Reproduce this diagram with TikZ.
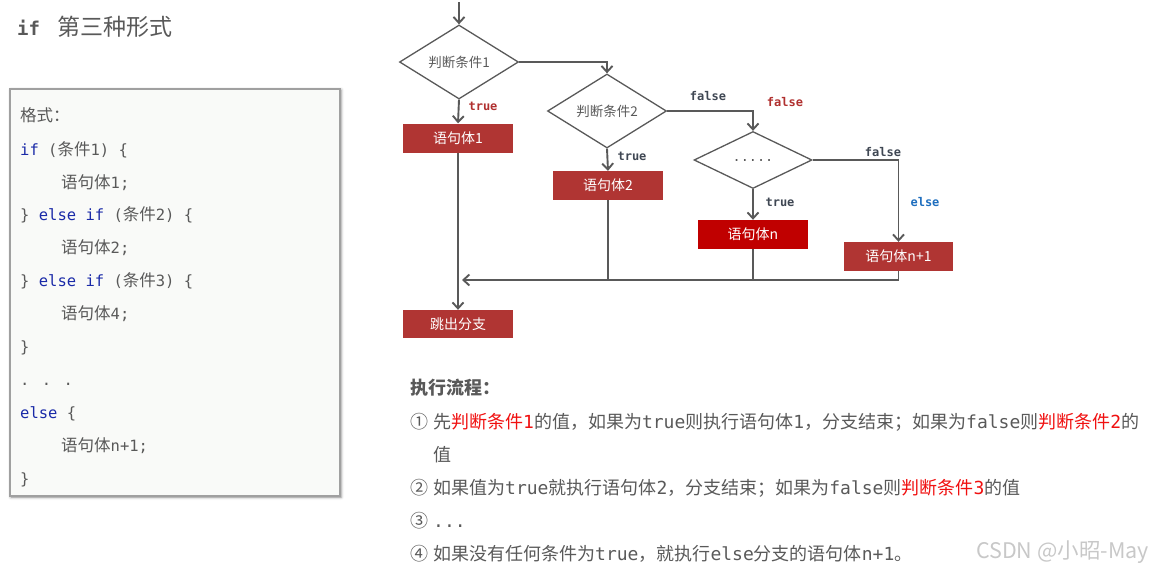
\documentclass[tikz,border=0pt]{standalone}
\usepackage{fontspec}
\setmainfont{Noto Sans CJK SC}
\newfontfamily\mono{DejaVu Sans Mono}
\usetikzlibrary{arrows.meta,shapes.geometric,shadows.blur}
\definecolor{lc}{HTML}{595959}
\definecolor{boxred}{HTML}{B03533}
\definecolor{boxdark}{HTML}{C00000}
\definecolor{labred}{HTML}{B0302F}
\definecolor{labdark}{HTML}{3F4753}
\definecolor{elseblue}{HTML}{1E6EBE}
\definecolor{kw}{HTML}{1A2AA8}
\definecolor{cg}{HTML}{595959}
\definecolor{tr}{HTML}{F01010}
\definecolor{codebg}{HTML}{F9FAF8}
\definecolor{codeborder}{HTML}{A0A0A0}
\definecolor{wm}{HTML}{C8C8C8}
\newcommand\fs[1]{\fontsize{#1}{#1}\selectfont}
\newcommand\cj[1]{{\normalfont\fs{16.5}#1}}
\newcommand\m[1]{{\mono #1}}
\tikzset{
  ln/.style={draw=lc, line width=1.9pt},
  arr/.style={-{Straight Barb[length=6pt,width=11pt]}},
  dia/.style={diamond, draw=lc, line width=1.3pt, inner sep=0pt,
    minimum width=119pt, minimum height=57pt, text=lc, font=\fs{13.5}},
  stmt/.style={rectangle, inner sep=0pt, minimum width=110pt, minimum height=29pt,
    text=white, font=\fs{14}},
  lab/.style={inner sep=0pt, font=\mono\bfseries\fs{12}},
  codeline/.style={anchor=base west, inner sep=0pt, text=cg, font=\mono\fs{15.5}},
  ftext/.style={anchor=base west, inner sep=0pt, text=cg, font=\fs{18}},
}
\begin{document}
\begin{tikzpicture}[x=1pt,y=-1pt]
\useasboundingbox (0,0) rectangle (1156,570);

% title
\node[anchor=base west, inner sep=0pt, text=cg, font=\mono\bfseries\fs{19}] (tif) at (17,35) {if};
\node[anchor=base west, inner sep=0pt, text=cg, font=\fs{23}] (ttitle) at (57,35) {第三种形式};

% code box
\node[draw=codeborder, line width=1.2pt, fill=codebg, minimum width=330pt, minimum height=407pt,
  blur shadow={shadow xshift=1pt, shadow yshift=-1pt, shadow blur radius=3pt, shadow opacity=45}]
  (codebox) at (175,292.5) {};
\node[codeline] (c1) at (20,121) {\cj{格式：}};
\node[codeline] (c2) at (20,155) {{\color{kw}if} (\cj{条件}1) \{};
\node[codeline] (c3) at (61,188) {\cj{语句体}1;};
\node[codeline] (c4) at (20,220) {\} {\color{kw}else if} (\cj{条件}2) \{};
\node[codeline] (c5) at (61,253) {\cj{语句体}2;};
\node[codeline] (c6) at (20,286) {\} {\color{kw}else if} (\cj{条件}3) \{};
\node[codeline] (c7) at (61,319) {\cj{语句体}4;};
\node[codeline] (c8) at (20,352) {\}};
\node[codeline] (c9) at (20,385) {. . .};
\node[codeline] (c10) at (20,418) {{\color{kw}else} \{};
\node[codeline] (c11) at (61,451) {\cj{语句体}n+1;};
\node[codeline] (c12) at (20,484) {\}};

% flowchart
\coordinate (start) at (459,2);
\node[dia] (d1) at (459,62) {判断条件1};
\node[dia] (d2) at (607,111) {判断条件2};
\node[dia, minimum width=118pt] (d3) at (753,160) {\m{.....}};
\node[stmt, fill=boxred] (b1) at (458,138) {语句体1};
\node[stmt, fill=boxred] (b2) at (608,185.5) {语句体2};
\node[stmt, fill=boxdark] (bn) at (753,234.5) {语句体n};
\node[stmt, fill=boxred, minimum width=109pt] (bn1) at (898.5,256.5) {语句体n+1};
\node[stmt, fill=boxred, minimum height=28pt] (bout) at (458,324) {跳出分支};
\coordinate (merge) at (462,280);

\draw[ln,arr] (start) -- (d1.north);
\draw[ln,arr] (d1.east) -| (d2.north);
\draw[ln,arr] (d1.south) -- (b1.north);
\draw[ln,arr] (d2.south) -- (b2.north);
\draw[ln,arr] (d2.east) -| (d3.north);
\draw[ln,arr] (d3.south) -- (bn.north);
\draw[ln,arr] (d3.east) -| (bn1.north);
\draw[ln,arr] (b1.south) -- (bout.north);
\draw[ln] (b2.south) -- (b2.south |- merge);
\draw[ln] (bn.south) -- (bn.south |- merge);
\draw[ln,arr] (bn1.south) |- (merge);

% labels
\node[lab, text=labred] (l1) at (483,106) {true};
\node[lab, text=labdark] (l2) at (632,156) {true};
\node[lab, text=labdark] (l3) at (708,96) {false};
\node[lab, text=labred] (l4) at (785,102) {false};
\node[lab, text=labdark] (l5) at (780,202) {true};
\node[lab, text=labdark] (l6) at (883,152) {false};
\node[lab, text=elseblue] (l7) at (925,202) {else};

% execution flow text
\node[ftext, font=\bfseries\fs{18}] (h) at (410,394) {执行流程：};
\node[ftext] (n1) at (410,428) {①};
\node[ftext] (t1) at (433,428) {先\textcolor{tr}{判断条件\m{1}}的值，如果为\m{true}则执行语句体\m{1}，分支结束；如果为\m{false}则\textcolor{tr}{判断条件\m{2}}的};
\node[ftext] (t1b) at (433,461) {值};
\node[ftext] (n2) at (410,494) {②};
\node[ftext] (t2) at (433,494) {如果值为\m{true}就执行语句体\m{2}，分支结束；如果为\m{false}则\textcolor{tr}{判断条件\m{3}}的值};
\node[ftext] (n3) at (410,527) {③};
\node[ftext] (t3) at (433,527) {\m{...}};
\node[ftext] (n4) at (410,560) {④};
\node[ftext] (t4) at (433,560) {如果没有任何条件为\m{true}，就执行\m{else}分支的语句体\m{n+1}。};

% watermark
\node[anchor=base west, inner sep=0pt, text=wm, font=\fs{21.5}] (wmark) at (976,558) {CSDN @小昭-May};
\end{tikzpicture}
\end{document}
